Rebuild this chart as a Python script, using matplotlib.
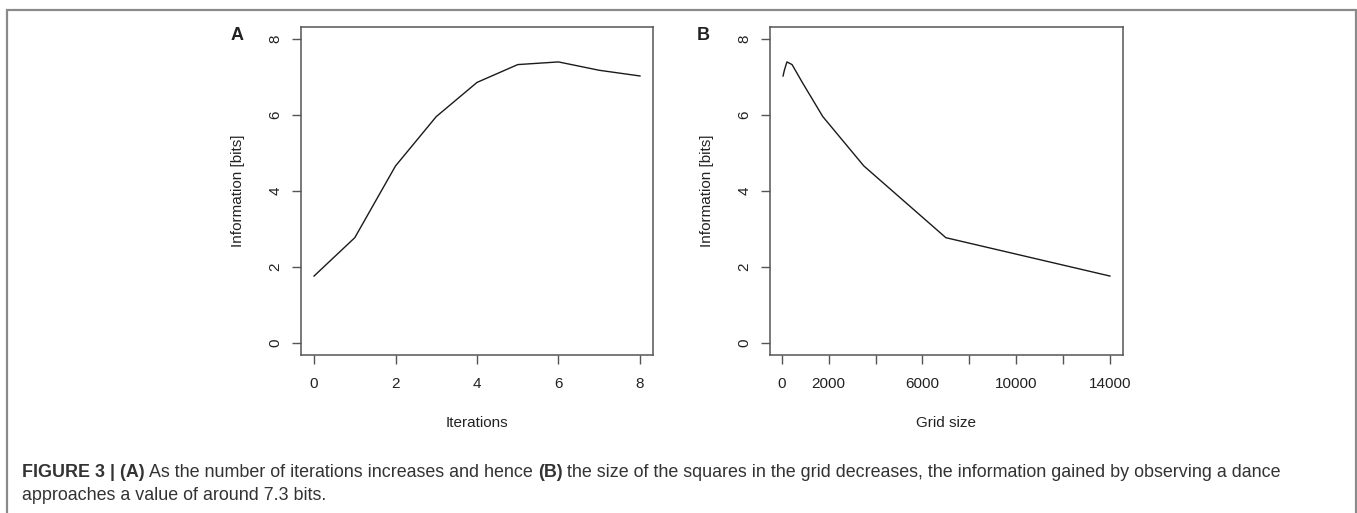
import matplotlib
matplotlib.use('Agg')
import matplotlib.pyplot as plt
from matplotlib.patches import Rectangle

plt.rcParams['font.family'] = ['Liberation Sans', 'DejaVu Sans']

# Values
iterations = [0, 1, 2, 3, 4, 5, 6, 7, 8]
grid_size = [14000, 7000, 3500, 1750, 875, 437.5, 218.75, 109.375, 54.6875]
info_bits = [1.76, 2.77, 4.66, 5.96, 6.86, 7.33, 7.40, 7.18, 7.03]

y_ticks = [0, 2, 4, 6, 8]
iter_ticks = [0, 2, 4, 6, 8]
grid_ticks = [0, 2000, 4000, 6000, 8000, 10000, 12000, 14000]
grid_tick_labels = ['0', '2000', '', '6000', '', '10000', '', '14000']

W, H = 1357, 513
fig = plt.figure(figsize=(W / 100, H / 100), dpi=100)

axis_col = '#555555'
text_col = '#222222'


def style_axes(ax):
    for s in ax.spines.values():
        s.set_color(axis_col)
        s.set_linewidth(1.1)
    ax.tick_params(direction='out', length=6.5, width=1.0, color=axis_col,
                   labelsize=11, labelcolor=text_col)
    ax.tick_params(axis='x', pad=9)
    ax.tick_params(axis='y', pad=7)
    ax.set_ylim(-0.32, 8.32)
    ax.set_yticks(y_ticks)
    ax.set_yticklabels([str(t) for t in y_ticks], rotation=90, va='center')
    ax.set_ylabel('Information [bits]', fontsize=11, color=text_col)
    ax.yaxis.set_label_coords(-0.16, 0.5)
    ax.xaxis.set_label_coords(0.5, -0.185)


# Panel A
axA = fig.add_axes([301 / W, 1 - 355 / H, 352 / W, 328 / H])
axA.plot(iterations, info_bits, color='#1a1a1a', lw=1.0)
axA.set_xlim(-0.32, 8.32)
axA.set_xticks(iter_ticks)
style_axes(axA)
axA.set_xlabel('Iterations', fontsize=11, color=text_col, va='top')
fig.text(237 / W, 1 - 36 / H, 'A', fontsize=13, fontweight='bold',
         color=text_col, ha='center', va='center')

# Panel B
axB = fig.add_axes([770 / W, 1 - 355 / H, 353 / W, 328 / H])
axB.plot(grid_size, info_bits, color='#1a1a1a', lw=1.0)
axB.set_xlim(-558 + 54.6875, 14000 + 558)
axB.set_xticks(grid_ticks)
axB.set_xticklabels(grid_tick_labels)
style_axes(axB)
axB.set_xlabel('Grid size', fontsize=11, color=text_col, va='top')
fig.text(703 / W, 1 - 36 / H, 'B', fontsize=13, fontweight='bold',
         color=text_col, ha='center', va='center')

# Frame around figure (open at the bottom)
fig.patches.append(Rectangle((7 / W, -0.05), (1356 - 7) / W, 1.05 - 10 / H,
                             transform=fig.transFigure, fill=False,
                             edgecolor='#8a8a8a', linewidth=1.6))

# Caption, mixed bold / regular pieces laid out left to right
cap_size = 12.9
line1 = [('FIGURE 3 | (A)', 'bold'),
         (' As the number of iterations increases and hence ', 'normal'),
         ('(B)', 'bold'),
         (' the size of the squares in the grid decreases, the information gained by observing a dance', 'normal')]
line2 = [('approaches a value of around 7.3 bits.', 'normal')]

renderer = fig.canvas.get_renderer()
for pieces, ybase in [(line1, 1 - 477 / H), (line2, 1 - 500 / H)]:
    x = 22.5 / W
    for s, wgt in pieces:
        t = fig.text(x, ybase, s, fontsize=cap_size, fontweight=wgt,
                     color='#333333', ha='left', va='baseline')
        bb = t.get_window_extent(renderer=renderer)
        x += bb.width / W

fig.savefig('out.png', dpi=100)
